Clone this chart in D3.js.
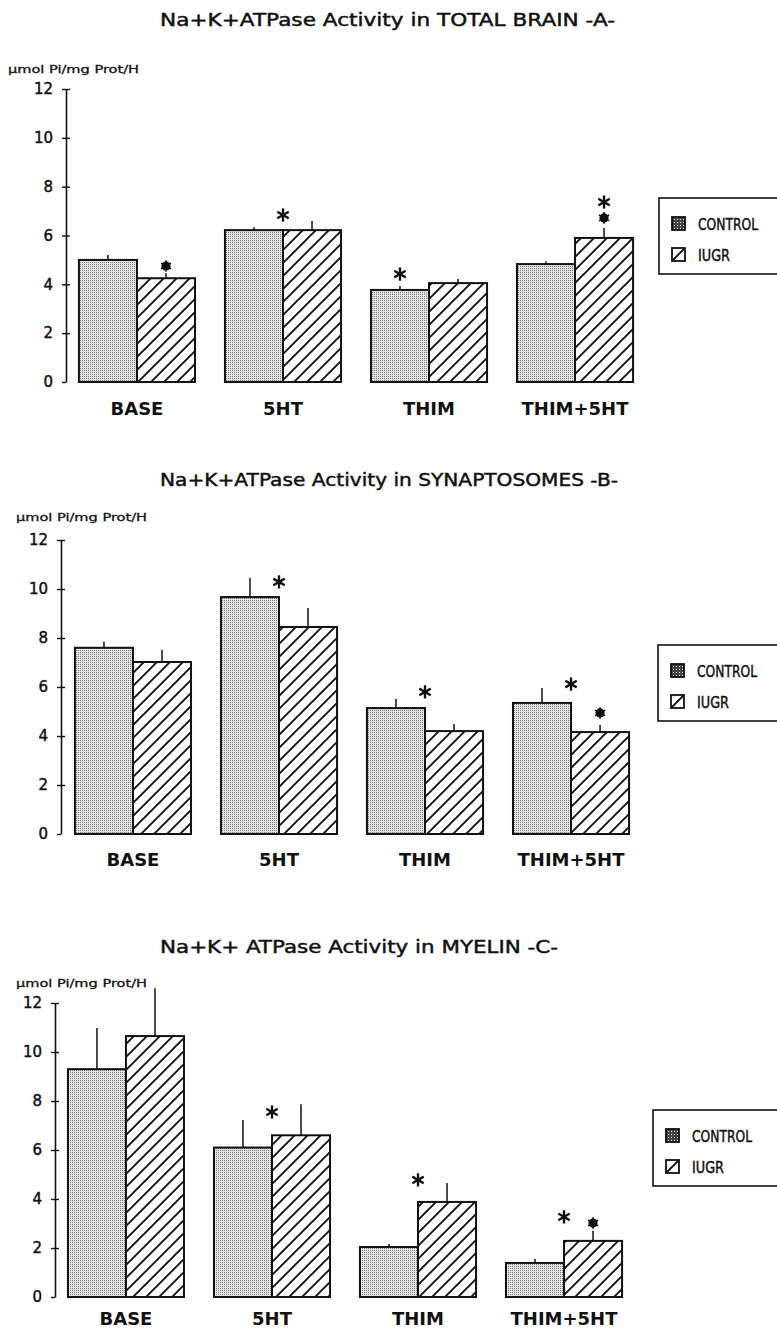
<!DOCTYPE html>
<html>
<head>
<meta charset="utf-8">
<script src="https://cdn.jsdelivr.net/npm/d3@7"></script>
<style>
  body { margin: 0; background: #fff; }
  svg { display: block; }
  text { font-family: "DejaVu Sans", sans-serif; fill: #111; }
  .heavy { stroke: #111; stroke-width: 0.45; }
</style>
</head>
<body>
<svg id="chart" width="777" height="1336"></svg>
<script>
var categories = ["BASE", "5HT", "THIM", "THIM+5HT"];
var series = ["CONTROL", "IUGR"];
var yTicks = [0, 2, 4, 6, 8, 10, 12];
var unitLabel = "µmol Pi/mg Prot/H";

// -A- total brain
var titleA = "Na+K+ATPase Activity in TOTAL BRAIN -A-";
var controlA = [5.0, 6.22, 3.77, 4.83];
var controlErrA = [0.2, 0.12, 0.16, 0.12];
var iugrA = [4.25, 6.22, 4.05, 5.9];
var iugrErrA = [0.2, 0.37, 0.17, 0.41];
// significance marks: category, where, symbol, level
var marksA = [["BASE", "iugr", "dot", 4.75], ["5HT", "mid", "star", 6.84],
  ["THIM", "control", "star", 4.42], ["THIM+5HT", "iugr", "dot", 6.72], ["THIM+5HT", "iugr", "star", 7.37]];

// -B- synaptosomes
var titleB = "Na+K+ATPase Activity in SYNAPTOSOMES -B-";
var controlB = [7.6, 9.67, 5.14, 5.35];
var controlErrB = [0.25, 0.78, 0.37, 0.61];
var iugrB = [7.02, 8.45, 4.2, 4.16];
var iugrErrB = [0.49, 0.77, 0.29, 0.29];
var marksB = [["5HT", "mid", "star", 10.29], ["THIM", "mid", "star", 5.8],
  ["THIM+5HT", "mid", "star", 6.12], ["THIM+5HT", "iugr", "dot", 4.94]];

// -C- myelin
var titleC = "Na+K+ ATPase Activity in MYELIN -C-";
var controlC = [9.3, 6.1, 2.04, 1.39];
var controlErrC = [1.68, 1.12, 0.12, 0.16];
var iugrC = [10.65, 6.6, 3.88, 2.29];
var iugrErrC = [1.95, 1.27, 0.77, 0.41];
var marksC = [["5HT", "mid", "star", 7.55], ["THIM", "mid", "star", 4.78],
  ["THIM+5HT", "mid", "star", 3.27], ["THIM+5HT", "iugr", "dot", 3.02]];

var svg = d3.select("#chart");

// patterns
var defs = svg.append("defs");
var stip = defs.append("pattern").attr("id", "stipple")
    .attr("patternUnits", "userSpaceOnUse").attr("width", 2).attr("height", 2);
stip.append("rect").attr("width", 2).attr("height", 2).attr("fill", "#e3e3e3");
stip.append("rect").attr("width", 1).attr("height", 1).attr("fill", "#7c7c7c");

var stipDark = defs.append("pattern").attr("id", "stippleDark")
    .attr("patternUnits", "userSpaceOnUse").attr("width", 3).attr("height", 3);
stipDark.append("rect").attr("width", 3).attr("height", 3).attr("fill", "#444");
stipDark.append("rect").attr("width", 1).attr("height", 1).attr("fill", "#eee");

var hatch = defs.append("pattern").attr("id", "hatch")
    .attr("patternUnits", "userSpaceOnUse").attr("width", 13).attr("height", 13);
hatch.append("rect").attr("width", 13).attr("height", 13).attr("fill", "#fff");
hatch.append("path").attr("d", "M0,13L13,0M-3,3L3,-3M10,16L16,10")
    .attr("stroke", "#111").attr("stroke-width", 1.9);

var panels = [
  { title: titleA, control: controlA, controlErr: controlErrA, iugr: iugrA, iugrErr: iugrErrA, marks: marksA,
    axisX: 66, y0: 382, y12: 89, xRange: [49, 663], titleY: 26, titleLen: 455,
    ylabX: 8, ylabY: 73, labelDy: 33, legX: 659, legY: 198 },
  { title: titleB, control: controlB, controlErr: controlErrB, iugr: iugrB, iugrErr: iugrErrB, marks: marksB,
    axisX: 61, y0: 834, y12: 540, xRange: [45, 659], titleY: 486, titleLen: 458,
    ylabX: 16, ylabY: 521, labelDy: 32, legX: 658, legY: 645 },
  { title: titleC, control: controlC, controlErr: controlErrC, iugr: iugrC, iugrErr: iugrErrC, marks: marksC,
    axisX: 55, y0: 1297, y12: 1003, xRange: [38, 652], titleY: 953, titleLen: 398,
    ylabX: 16, ylabY: 987, labelDy: 28, legX: 653, legY: 1110 }
];

function drawStar(g, cx, cy, r, w) {
  [90, 30, 150].forEach(function(a) {
    var rad = a * Math.PI / 180;
    g.append("line")
      .attr("x1", cx - r * Math.cos(rad)).attr("y1", cy - r * Math.sin(rad))
      .attr("x2", cx + r * Math.cos(rad)).attr("y2", cy + r * Math.sin(rad))
      .attr("stroke", "#111").attr("stroke-width", w);
  });
}

panels.forEach(function(p) {
  var g = svg.append("g");

  var y = d3.scaleLinear().domain([0, 12]).range([p.y0, p.y12]);
  var x = d3.scaleBand().domain(categories).range(p.xRange).padding(0.205);
  var xs = d3.scaleBand().domain(["control", "iugr"]).range([0, x.bandwidth()]);

  // title
  g.append("text").attr("class", "heavy")
    .attr("x", 160).attr("y", p.titleY)
    .attr("textLength", p.titleLen).attr("lengthAdjust", "spacingAndGlyphs")
    .style("font-size", "17px")
    .text(p.title);

  // unit label
  g.append("text")
    .attr("x", p.ylabX).attr("y", p.ylabY)
    .attr("textLength", 131).attr("lengthAdjust", "spacingAndGlyphs")
    .style("font-size", "11px").style("stroke", "#111").style("stroke-width", 0.3)
    .text(unitLabel);

  // y axis with ticks crossing the line
  var axis = g.append("g")
    .attr("transform", "translate(" + p.axisX + ",0)")
    .call(d3.axisLeft(y).tickValues(yTicks).tickSize(4).tickSizeOuter(0).tickPadding(9));
  axis.select(".domain").attr("stroke", "#111").attr("stroke-width", 1.6);
  axis.selectAll(".tick line").attr("stroke", "#111").attr("stroke-width", 1.4)
    .attr("x1", function(d) { return d === 0 ? 0 : 4; });
  axis.selectAll(".tick text").attr("class", "heavy")
    .style("font-size", "15px").style("font-family", "DejaVu Sans, sans-serif").attr("fill", "#111");

  var rows = categories.map(function(c, i) {
    return [
      { cat: c, key: "control", v: p.control[i], e: p.controlErr[i] },
      { cat: c, key: "iugr", v: p.iugr[i], e: p.iugrErr[i] }
    ];
  });
  var bars = [].concat.apply([], rows);

  // error bars (drawn first, line goes up from bar top)
  g.selectAll(".err").data(bars).enter().append("line")
    .attr("x1", function(d) { return x(d.cat) + xs(d.key) + xs.bandwidth() / 2; })
    .attr("x2", function(d) { return x(d.cat) + xs(d.key) + xs.bandwidth() / 2; })
    .attr("y1", function(d) { return y(d.v); })
    .attr("y2", function(d) { return y(d.v + d.e); })
    .attr("stroke", "#111").attr("stroke-width", 1.5);

  g.selectAll(".bar").data(bars).enter().append("rect")
    .attr("x", function(d) { return x(d.cat) + xs(d.key); })
    .attr("y", function(d) { return y(d.v); })
    .attr("width", xs.bandwidth())
    .attr("height", function(d) { return y(0) - y(d.v); })
    .attr("fill", function(d) { return d.key === "control" ? "url(#stipple)" : "url(#hatch)"; })
    .attr("stroke", "#111").attr("stroke-width", 2);

  // category labels
  g.selectAll(".cat").data(categories).enter().append("text")
    .attr("x", function(d) { return x(d) + x.bandwidth() / 2; })
    .attr("y", p.y0 + p.labelDy)
    .attr("text-anchor", "middle")
    .style("font-size", "18px").style("font-weight", "bold")
    .text(function(d) { return d; });

  // significance marks
  p.marks.forEach(function(m) {
    var cx = m[1] === "mid" ? x(m[0]) + x.bandwidth() / 2 : x(m[0]) + xs(m[1]) + xs.bandwidth() / 2;
    var cy = y(m[3]);
    if (m[2] === "dot") {
      g.append("circle").attr("cx", cx).attr("cy", cy).attr("r", 4.6).attr("fill", "#111");
      drawStar(g, cx, cy, 5.8, 1.6);
    } else {
      drawStar(g, cx, cy, 6.6, 2.4);
    }
  });

  // legend box runs off the right edge
  var leg = g.append("g").attr("transform", "translate(" + p.legX + "," + p.legY + ")");
  leg.append("rect").attr("width", 140).attr("height", 76)
    .attr("fill", "none").attr("stroke", "#111").attr("stroke-width", 1.6);
  series.forEach(function(s, i) {
    var sy = 19 + i * 31;
    leg.append("rect").attr("x", 13).attr("y", sy).attr("width", 13).attr("height", 13)
      .attr("fill", i === 0 ? "url(#stippleDark)" : "#fff")
      .attr("stroke", "#111").attr("stroke-width", 1.8);
    if (i === 1) {
      leg.append("line").attr("x1", 14).attr("y1", sy + 12).attr("x2", 25).attr("y2", sy + 1)
        .attr("stroke", "#111").attr("stroke-width", 1.8);
    }
    leg.append("text").attr("class", "heavy").attr("x", 39).attr("y", sy + 13)
      .attr("textLength", i === 0 ? 60 : 32).attr("lengthAdjust", "spacingAndGlyphs")
      .style("font-size", "15px")
      .text(s);
  });
});
</script>
</body>
</html>
